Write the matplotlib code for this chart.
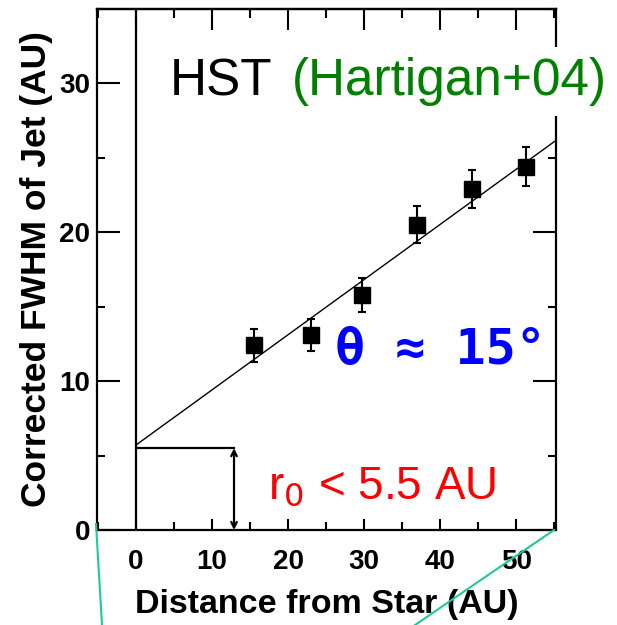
import matplotlib.pyplot as plt
from matplotlib.lines import Line2D
from matplotlib.ticker import MultipleLocator

dist = [15.5, 23.0, 29.7, 36.9, 44.1, 51.2]
fwhm = [12.4, 13.1, 15.8, 20.5, 22.9, 24.4]
err = [1.1, 1.1, 1.15, 1.25, 1.3, 1.3]

# straight-line fit and the r0 marker
fit_x = [0, 55]
fit_y = [5.7, 26.1]
r0 = 5.5
r0_x = 12.9

plt.rcParams['font.family'] = ['Liberation Sans', 'DejaVu Sans']

fig = plt.figure(figsize=(6.17, 6.25), dpi=100)
ax = fig.add_axes([97 / 617, 95 / 625, 459 / 617, 521 / 625])

ax.plot(fit_x, fit_y, color='k', lw=1.0)
ax.errorbar(dist, fwhm, yerr=err, fmt='s', color='k', ms=11,
            elinewidth=1.5, capsize=3, capthick=1.5, zorder=3)
ax.axvline(0, color='k', lw=1.6)
ax.plot([0, r0_x], [r0, r0], color='k', lw=1.6)
ax.annotate('', xy=(r0_x, 0), xytext=(r0_x, r0),
            arrowprops=dict(arrowstyle='<->', color='k', lw=1.6,
                            shrinkA=0, shrinkB=0, mutation_scale=10))

ax.set_xlim(-5.1, 55.2)
ax.set_ylim(0, 35)
ax.xaxis.set_major_locator(MultipleLocator(10))
ax.xaxis.set_minor_locator(MultipleLocator(5))
ax.yaxis.set_major_locator(MultipleLocator(10))
ax.yaxis.set_minor_locator(MultipleLocator(5))

for s in ax.spines.values():
    s.set_linewidth(1.6)
ax.tick_params(axis='y', which='both', direction='in', left=True, right=True,
               width=1.5, labelsize=20, pad=5)
ax.tick_params(axis='y', which='major', length=16.5)
ax.tick_params(axis='y', which='minor', length=6)
ax.tick_params(axis='x', which='both', direction='in', top=False,
               width=1.5, labelsize=20, pad=14)
ax.tick_params(axis='x', which='major', length=8)
ax.tick_params(axis='x', which='minor', length=6)
for lab in ax.get_xticklabels() + ax.get_yticklabels():
    lab.set_fontweight('bold')

top = ax.secondary_xaxis('top')
top.xaxis.set_major_locator(MultipleLocator(10))
top.xaxis.set_minor_locator(MultipleLocator(5))
top.tick_params(which='both', direction='in', width=1.5, labeltop=False)
top.tick_params(which='major', length=15)
top.tick_params(which='minor', length=6.5)
top.spines['top'].set_linewidth(1.6)

ax.set_xlabel('Distance from Star (AU)', fontsize=24.5, fontweight='bold',
              labelpad=10)
ax.set_ylabel('Corrected FWHM of Jet (AU)', fontsize=25.5, fontweight='bold',
              labelpad=4)

fig.text(170 / 617, 1 - 95 / 625, 'HST', fontsize=37, color='k',
         va='baseline', ha='left')
fig.text(292 / 617, 1 - 95 / 625, '(Hartigan+04)', fontsize=37,
         color='green', va='baseline', ha='left',
         bbox=dict(boxstyle='square,pad=0.2', fc='white', ec='none'))
fig.text(335 / 617, 1 - 350 / 625, 'θ ≈ 15°', fontsize=36, color='blue',
         family='DejaVu Sans Mono', fontweight='bold', va='center', ha='left')
fig.text(268 / 617, 1 - 498 / 625, 'r$_0$ < 5.5 AU', fontsize=33, color='red',
         va='baseline', ha='left')

teal = '#1fc99c'
fig.add_artist(Line2D([96 / 617, 102 / 617], [1 - 524 / 625, 0],
                      color=teal, lw=1.5, transform=fig.transFigure))
fig.add_artist(Line2D([554 / 617, 415 / 617], [1 - 530 / 625, 0],
                      color=teal, lw=1.5, transform=fig.transFigure))

fig.savefig('out.png', dpi=100)
